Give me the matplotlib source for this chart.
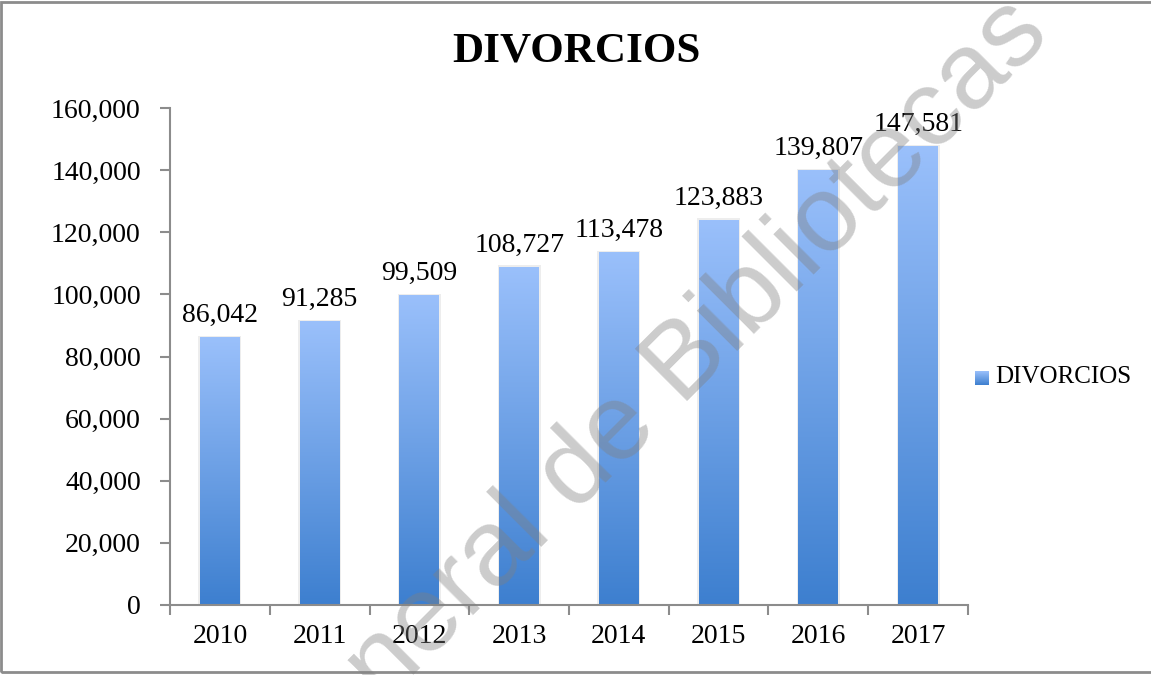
import numpy as np
import matplotlib
matplotlib.use("Agg")
import matplotlib.pyplot as plt
from matplotlib.colors import LinearSegmentedColormap
from matplotlib.patches import Rectangle

years = ["2010", "2011", "2012", "2013", "2014", "2015", "2016", "2017"]
divorcios = [86042, 91285, 99509, 108727, 113478, 123883, 139807, 147581]
y_ticks = [0, 20000, 40000, 60000, 80000, 100000, 120000, 140000, 160000]

plt.rcParams["font.family"] = ["Liberation Serif", "DejaVu Serif"]

grad = LinearSegmentedColormap.from_list("bar_grad", ["#3d7fcf", "#9ac0fb"])
gray = "#8c8c8c"

fig = plt.figure(figsize=(11.51, 6.75), dpi=100)
ax = fig.add_axes([170 / 1151, 1 - 605 / 675, 798 / 1151, 497 / 675])

x = np.arange(len(years))
bars = ax.bar(x, divorcios, width=0.4, color="none", zorder=2)

# gradient fill for each bar, light at top, dark at bottom
g = np.linspace(0, 1, 256).reshape(-1, 1)
for b in bars:
    x0, y0 = b.get_x(), b.get_y()
    w, h = b.get_width(), b.get_height()
    ax.imshow(g, cmap=grad, origin="lower", aspect="auto",
              extent=[x0, x0 + w, y0, y0 + h], zorder=2)
    # soft shadow
    ax.add_patch(Rectangle((x0 - 0.015, y0), w + 0.03, h + 600,
                           color="#000000", alpha=0.07, lw=0, zorder=1))

for xi, v in zip(x, divorcios):
    ax.annotate(f"{v:,}", (xi, v), xytext=(0, 7), textcoords="offset points",
                ha="center", va="bottom", fontsize=20, zorder=4)

ax.set_xlim(-0.5, len(years) - 0.5)
ax.set_ylim(0, 160000)
ax.set_yticks(y_ticks)
ax.set_yticklabels([f"{t:,}" for t in y_ticks])
ax.set_xticks(np.arange(len(years) + 1) - 0.5, minor=False)
ax.set_xticklabels([""] * (len(years) + 1))
ax.set_xticks(x, minor=True)
ax.set_xticklabels(years, minor=True)
ax.tick_params(axis="x", which="major", direction="out", length=7, color=gray, width=1.5)
ax.tick_params(axis="x", which="minor", length=0, pad=14, labelsize=20)
ax.tick_params(axis="y", direction="out", length=7, color=gray, width=1.5, labelsize=20, pad=14)

for side in ["top", "right"]:
    ax.spines[side].set_visible(False)
for side in ["left", "bottom"]:
    ax.spines[side].set_color(gray)
    ax.spines[side].set_linewidth(1.5)

fig.text(576 / 1151, 1 - 52 / 675, "DIVORCIOS", ha="center", va="center",
         fontsize=31, fontweight="bold")

# legend
lax = fig.add_axes([975 / 1151, 1 - 385 / 675, 14 / 1151, 14 / 675])
lax.imshow(g, cmap=grad, origin="lower", aspect="auto", extent=[0, 1, 0, 1])
lax.axis("off")
fig.text(995 / 1151, 1 - 377 / 675, "DIVORCIOS", ha="left", va="center", fontsize=18)

# watermark
fig.text(1052 / 1151, 638 / 675, "Dirección General de Bibliotecas",
         family=["Liberation Sans", "DejaVu Sans"], fontsize=78, color="#808080",
         alpha=0.4, rotation=45, rotation_mode="anchor", ha="right", va="baseline",
         zorder=10)

# chart frame
fig.patches.append(Rectangle((1 / 1151, 3 / 675), 1.2, 1 - 5 / 675, transform=fig.transFigure,
                             fill=False, edgecolor=gray, lw=2))

fig.savefig("out.png", dpi=100)
